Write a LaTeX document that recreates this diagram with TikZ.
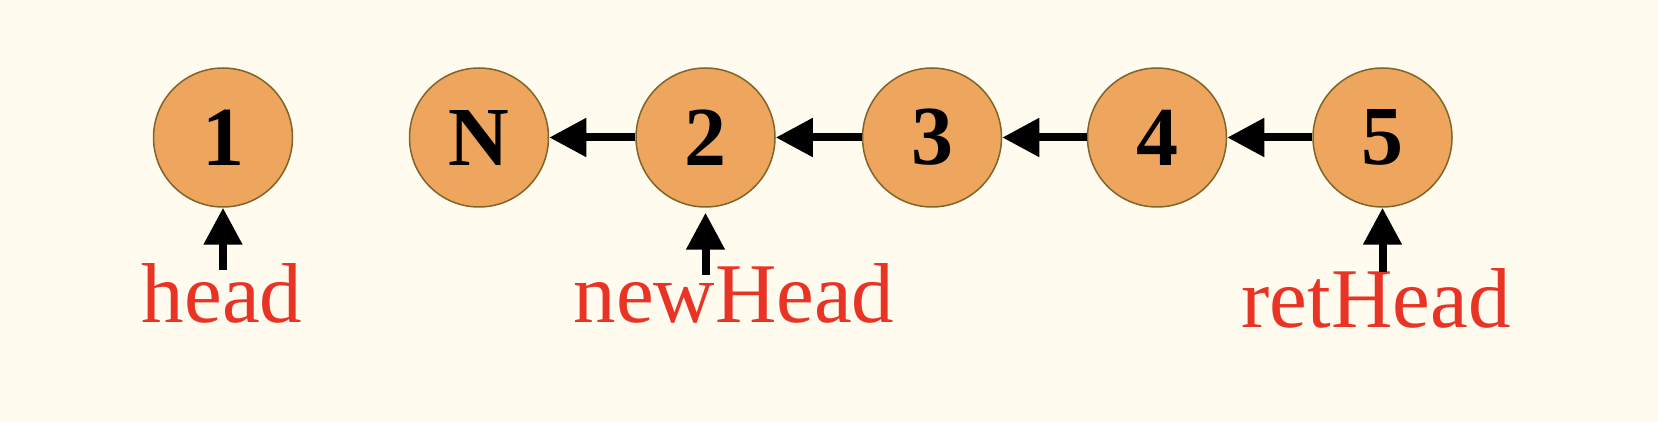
\documentclass[tikz,border=0pt]{standalone}
\usepackage{fontspec}
\setmainfont{Liberation Serif}
\usetikzlibrary{arrows.meta}
\definecolor{bg}{RGB}{255,251,238}
\definecolor{nodefill}{RGB}{238,166,95}
\definecolor{nodeline}{RGB}{128,100,40}
\definecolor{lblred}{RGB}{233,52,37}
\begin{document}
\begin{tikzpicture}[x=1pt,y=-1pt,
  lnode/.style={circle,draw=nodeline,fill=nodefill,line width=1.5pt,minimum size=139pt,inner sep=0pt,
    font=\fontsize{84}{90}\selectfont\bfseries},
  lbl/.style={anchor=base,text=lblred,font=\fontsize{85}{95}\selectfont,inner sep=0pt},
  link/.style={line width=8pt,-{Triangle[length=37pt,width=37pt]}}]
\fill[bg] (0,0) rectangle (1658,422);
\useasboundingbox (0,0) rectangle (1658,422);
\node[lnode] (n1) at (223,137.5) {1};
\node[lnode] (nN) at (479,137.5) {N};
\node[lnode] (n2) at (705.5,137.5) {2};
\node[lnode] (n3) at (932,137.5) {3};
\node[lnode] (n4) at (1157,137.5) {4};
\node[lnode] (n5) at (1382.5,137.5) {5};
\draw[link] (n2) -- (nN);
\draw[link] (n3) -- (n2);
\draw[link] (n4) -- (n3);
\draw[link] (n5) -- (n4);
\node[lbl] (head) at (222,323) {head};
\node[lbl] (newhead) at (734,323) {newHead};
\node[lbl] (rethead) at (1376,327) {retHead};
\coordinate (t1) at (223,270);
\coordinate (t2) at (705.5,275);
\coordinate (t5) at (1382.5,272);
\draw[link] (t1) -- (n1.south);
\draw[link,shorten >=5pt] (t2) -- (n2.south);
\draw[link] (t5) -- (n5.south);
\end{tikzpicture}
\end{document}
